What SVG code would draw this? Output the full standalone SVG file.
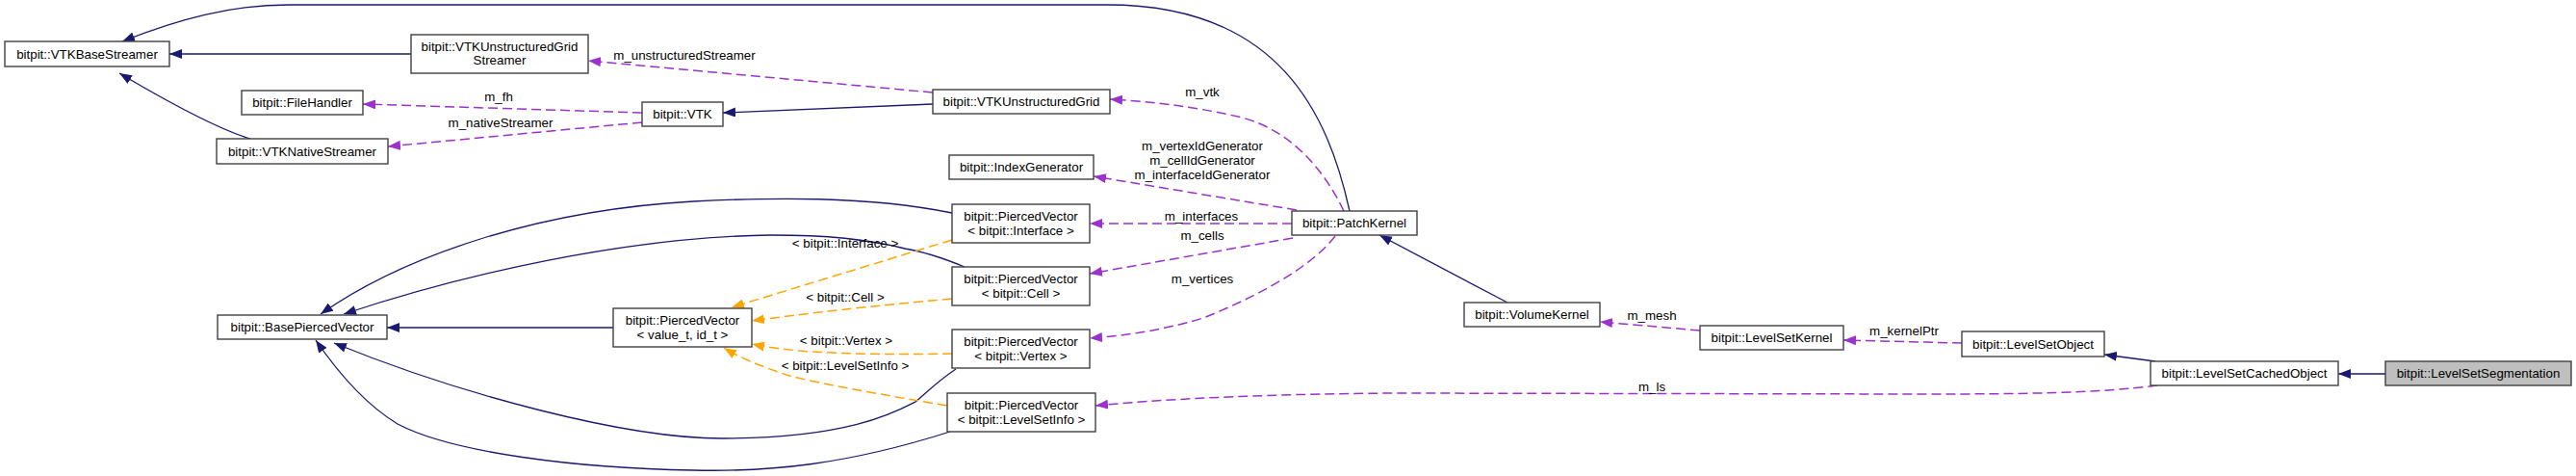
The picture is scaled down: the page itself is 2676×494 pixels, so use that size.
<svg xmlns="http://www.w3.org/2000/svg" width="2676" height="494" viewBox="0 0 2676 494">
<style>
.n rect{fill:#ffffff;stroke:#404040;stroke-width:1.4}
.n.cur rect{fill:#bfbfbf}
text{font-family:"Liberation Sans",Arial,Helvetica,sans-serif;font-size:13.33px;fill:#000;text-anchor:middle}
.inh{fill:none;stroke:#191970;stroke-width:1.3}
.use{fill:none;stroke:#9a32cd;stroke-width:1.5;stroke-dasharray:10,5}
.tpl{fill:none;stroke:#ffa500;stroke-width:1.5;stroke-dasharray:10,5}
</style>
<defs>
<marker id="aN" markerUnits="userSpaceOnUse" viewBox="0 0 13 10" markerWidth="13" markerHeight="10" refX="13" refY="5" orient="auto"><path d="M0,0 L13,5 L0,10 z" fill="#191970"/></marker>
<marker id="aP" markerUnits="userSpaceOnUse" viewBox="0 0 13 10" markerWidth="13" markerHeight="10" refX="13" refY="5" orient="auto"><path d="M0,0 L13,5 L0,10 z" fill="#9a32cd"/></marker>
<marker id="aO" markerUnits="userSpaceOnUse" viewBox="0 0 13 10" markerWidth="13" markerHeight="10" refX="13" refY="5" orient="auto"><path d="M0,0 L13,5 L0,10 z" fill="#ffa500"/></marker>
</defs>
<rect width="2676" height="494" fill="#ffffff"/>
<g id="edges">
<!-- inheritance -->
<path class="inh" marker-end="url(#aN)" d="M427,56 L176,56"/>
<path class="inh" marker-end="url(#aN)" d="M260,144 C230,135 190,115 124,76"/>
<path class="inh" marker-end="url(#aN)" d="M969,108 L751,117"/>
<path class="inh" marker-end="url(#aN)" d="M1402,219 C1380,120 1330,5 1150,5 L300,5 C240,5 185,20 127,43"/>
<path class="inh" marker-end="url(#aN)" d="M637,340 L402,340"/>
<path class="inh" marker-end="url(#aN)" d="M989,221 C900,203 800,205 720,209 C560,218 420,265 333,326"/>
<path class="inh" marker-end="url(#aN)" d="M1002,277 C985,270 965,262 940,258 C900,248 860,244 800,244 C650,246 480,285 357,326"/>
<path class="inh" marker-end="url(#aN)" d="M993,383 C975,395 965,405 951,417 C930,428 880,455 750,455 C650,455 480,410 347,356"/>
<path class="inh" marker-end="url(#aN)" d="M987,448 C880,482 800,490 720,488 C600,486 470,470 413,440 C380,420 350,385 328,353"/>
<path class="inh" marker-end="url(#aN)" d="M1566,314 L1433,244"/>
<path class="inh" marker-end="url(#aN)" d="M2239,375 L2186,368"/>
<path class="inh" marker-end="url(#aN)" d="M2478,388 L2429,388"/>
<!-- usage -->
<path class="use" marker-end="url(#aP)" d="M969,96 L611,63"/>
<path class="use" marker-end="url(#aP)" d="M667,117 L377,108"/>
<path class="use" marker-end="url(#aP)" d="M667,127 L403,152"/>
<path class="use" marker-end="url(#aP)" d="M1396,219 C1375,175 1340,135 1290,122 C1240,110 1190,105 1153,103"/>
<path class="use" marker-end="url(#aP)" d="M1347,218 L1136,183"/>
<path class="use" marker-end="url(#aP)" d="M1342,232 L1132,232"/>
<path class="use" marker-end="url(#aP)" d="M1343,247 L1132,284"/>
<path class="use" marker-end="url(#aP)" d="M1387,245 C1360,280 1300,310 1250,330 C1200,345 1160,349 1132,351"/>
<path class="use" marker-end="url(#aP)" d="M1766,343 L1662,334"/>
<path class="use" marker-end="url(#aP)" d="M2038,356 L1915,353"/>
<path class="use" marker-end="url(#aP)" d="M2241,400 C2180,408 2100,409 2000,409 L1450,408 C1300,409 1200,415 1138,421"/>
<!-- template instances -->
<path class="tpl" marker-end="url(#aO)" d="M989,249 L760,319"/>
<path class="tpl" marker-end="url(#aO)" d="M989,310 C900,318 840,325 781,333"/>
<path class="tpl" marker-end="url(#aO)" d="M989,367 C940,368 880,368 830,364 C810,362 795,360 781,357"/>
<path class="tpl" marker-end="url(#aO)" d="M984,421 C920,410 860,400 820,390 C790,380 770,372 752,361"/>
<!-- labels -->
<text x="711" y="62">m_unstructuredStreamer</text>
<text x="518" y="105">m_fh</text>
<text x="520" y="132">m_nativeStreamer</text>
<text x="1249" y="100">m_vtk</text>
<text x="1249" y="156">m_vertexIdGenerator</text>
<text x="1249" y="171">m_cellIdGenerator</text>
<text x="1249" y="186">m_interfaceIdGenerator</text>
<text x="1248" y="229">m_interfaces</text>
<text x="1249" y="249">m_cells</text>
<text x="1249" y="294">m_vertices</text>
<text x="878" y="257">&lt; bitpit::Interface &gt;</text>
<text x="878" y="313">&lt; bitpit::Cell &gt;</text>
<text x="879" y="358">&lt; bitpit::Vertex &gt;</text>
<text x="878" y="384">&lt; bitpit::LevelSetInfo &gt;</text>
<text x="1716" y="332">m_mesh</text>
<text x="1978" y="348">m_kernelPtr</text>
<text x="1716" y="406">m_ls</text>
</g>
<g id="VTKBaseStreamer" class="n"><rect x="5" y="43" width="171" height="26"/><text x="90.5" y="61">bitpit::VTKBaseStreamer</text></g>
<g id="VTKUnstructuredGridStreamer" class="n"><rect x="427" y="36" width="184" height="40"/><text x="519" y="53">bitpit::VTKUnstructuredGrid</text><text x="519" y="67">Streamer</text></g>
<g id="FileHandler" class="n"><rect x="251" y="94" width="126" height="25"/><text x="314" y="111">bitpit::FileHandler</text></g>
<g id="VTKNativeStreamer" class="n"><rect x="225" y="144" width="178" height="26"/><text x="314" y="162">bitpit::VTKNativeStreamer</text></g>
<g id="VTK" class="n"><rect x="667" y="106" width="84" height="25"/><text x="709" y="123">bitpit::VTK</text></g>
<g id="VTKUnstructuredGrid" class="n"><rect x="969" y="93" width="184" height="25"/><text x="1061" y="110">bitpit::VTKUnstructuredGrid</text></g>
<g id="IndexGenerator" class="n"><rect x="986" y="161" width="150" height="25"/><text x="1061" y="178">bitpit::IndexGenerator</text></g>
<g id="PiercedVectorInterface" class="n"><rect x="989" y="212" width="143" height="40"/><text x="1060.5" y="229">bitpit::PiercedVector</text><text x="1060.5" y="244">&lt; bitpit::Interface &gt;</text></g>
<g id="PiercedVectorCell" class="n"><rect x="989" y="277" width="143" height="40"/><text x="1060.5" y="294">bitpit::PiercedVector</text><text x="1060.5" y="309">&lt; bitpit::Cell &gt;</text></g>
<g id="PiercedVectorVertex" class="n"><rect x="989" y="342" width="143" height="40"/><text x="1060.5" y="359">bitpit::PiercedVector</text><text x="1060.5" y="374">&lt; bitpit::Vertex &gt;</text></g>
<g id="PiercedVectorLevelSetInfo" class="n"><rect x="984" y="408" width="154" height="40"/><text x="1061" y="425">bitpit::PiercedVector</text><text x="1061" y="440">&lt; bitpit::LevelSetInfo &gt;</text></g>
<g id="BasePiercedVector" class="n"><rect x="226" y="327" width="176" height="25"/><text x="314" y="344">bitpit::BasePiercedVector</text></g>
<g id="PiercedVectorTemplate" class="n"><rect x="637" y="320" width="144" height="40"/><text x="709" y="337">bitpit::PiercedVector</text><text x="709" y="352">&lt; value_t, id_t &gt;</text></g>
<g id="PatchKernel" class="n"><rect x="1342" y="219" width="130" height="25"/><text x="1407" y="236">bitpit::PatchKernel</text></g>
<g id="VolumeKernel" class="n"><rect x="1521" y="314" width="141" height="25"/><text x="1591.5" y="331">bitpit::VolumeKernel</text></g>
<g id="LevelSetKernel" class="n"><rect x="1766" y="338" width="149" height="25"/><text x="1840.5" y="355">bitpit::LevelSetKernel</text></g>
<g id="LevelSetObject" class="n"><rect x="2038" y="344" width="148" height="26"/><text x="2112" y="362">bitpit::LevelSetObject</text></g>
<g id="LevelSetCachedObject" class="n"><rect x="2234" y="375" width="195" height="25"/><text x="2331.5" y="392">bitpit::LevelSetCachedObject</text></g>
<g id="LevelSetSegmentation" class="n cur"><rect x="2478" y="375" width="193" height="25"/><text x="2574.5" y="392">bitpit::LevelSetSegmentation</text></g>
</svg>
